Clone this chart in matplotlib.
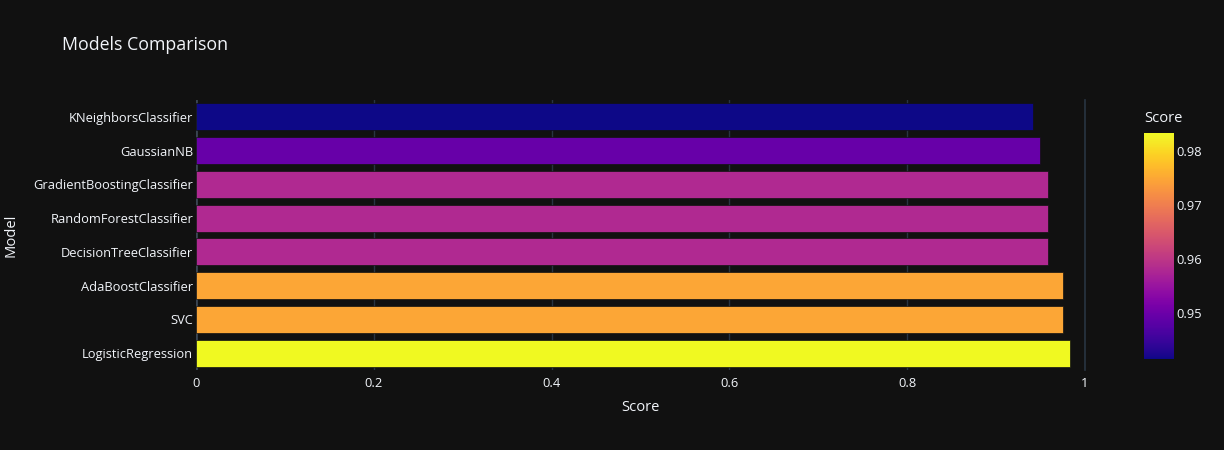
import matplotlib
matplotlib.use("Agg")
import matplotlib.pyplot as plt
import numpy as np
from matplotlib import cm, colors

models = ["LogisticRegression", "SVC", "AdaBoostClassifier", "DecisionTreeClassifier",
          "RandomForestClassifier", "GradientBoostingClassifier", "GaussianNB", "KNeighborsClassifier"]
scores = [0.9832, 0.9748, 0.9748, 0.958, 0.958, 0.958, 0.9496, 0.9415]
xticks = [0, 0.2, 0.4, 0.6, 0.8, 1]
xticklabels = ["0", "0.2", "0.4", "0.6", "0.8", "1"]
cbar_ticks = [0.95, 0.96, 0.97, 0.98]

BG = "#111111"
FG = "#f2f5fa"
GRID = "#283442"

plt.rcParams['font.family'] = ['Open Sans', 'DejaVu Sans']

fig = plt.figure(figsize=(12.24, 4.5), dpi=100, facecolor=BG)
ax = fig.add_axes([196/1224, 80/450, 889/1224, 270/450], facecolor=BG)

norm = colors.Normalize(vmin=min(scores), vmax=max(scores))
cmap = plt.get_cmap("plasma")
ypos = np.arange(len(models))
ax.barh(ypos, scores, height=0.8, color=cmap(norm(scores)), edgecolor=BG, linewidth=0.5, zorder=3)

ax.set_xlim(0, 1.0)
ax.set_ylim(-0.5, len(models) - 0.5)
ax.set_xticks(xticks)
ax.set_xticklabels(xticklabels)
ax.set_yticks(ypos)
ax.set_yticklabels(models)
ax.tick_params(axis='both', length=0, colors=FG, labelsize=9.3)
ax.tick_params(axis='x', pad=5)
ax.tick_params(axis='y', pad=2)
ax.grid(axis='x', color=GRID, linewidth=1, zorder=0)
ax.axvline(1.0, color=GRID, linewidth=1.2, zorder=0, clip_on=False)
ax.axvline(0, color="#3a4552", linewidth=2, zorder=2)
for s in ax.spines.values():
    s.set_visible(False)

ax.set_xlabel("Score", color=FG, fontsize=10.6, labelpad=7)
fig.text(11/1224, 1 - 235/450, "Model", color=FG, fontsize=10.6, rotation=90,
         ha='center', va='center')

fig.text(62/1224, 1 - 45/450, "Models Comparison", color=FG, fontsize=12.8, va='center', ha='left')

cax = fig.add_axes([1144/1224, (450-359.3)/450, 30/1224, 226/450])
sm = cm.ScalarMappable(norm=norm, cmap=cmap)
cb = fig.colorbar(sm, cax=cax)
cb.outline.set_visible(False)
cb.set_ticks(cbar_ticks)
cb.set_ticklabels([f"{t:.2f}" for t in cbar_ticks])
cax.tick_params(length=0, colors=FG, labelsize=9.3, pad=2)
fig.text(1144/1224, 1 - 119/450, "Score", color=FG, fontsize=10.6, va='center', ha='left')

fig.savefig("out.png", dpi=100, facecolor=BG)
